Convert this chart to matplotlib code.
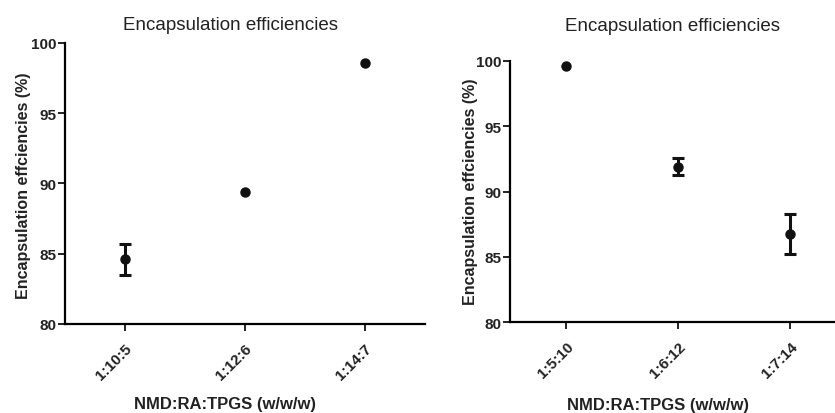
import matplotlib
matplotlib.use('Agg')
import matplotlib.pyplot as plt
import numpy as np

plt.rcParams['font.family'] = ['Liberation Sans', 'DejaVu Sans']

# left panel: NMD:RA:TPGS with increasing RA
left_labels = ['1:10:5', '1:12:6', '1:14:7']
left_mean = [84.6, 89.4, 98.6]
left_err = [1.1, 0.0, 0.0]

# right panel
right_labels = ['1:5:10', '1:6:12', '1:7:14']
right_mean = [99.6, 91.9, 86.75]
right_err = [0.0, 0.65, 1.5]

title = 'Encapsulation efficiencies'
ylabel = 'Encapsulation effciencies (%)'
xlabel = 'NMD:RA:TPGS (w/w/w)'
yticks = [80, 85, 90, 95, 100]


def draw_panel(ax, labels, mean, err, xmax, title_x, title_pad, xlab_pos, ylab_pos):
    x = np.arange(len(labels))
    mean = np.array(mean)
    err = np.array(err)
    ax.plot(x, mean, 'o', color='#111111', markersize=6.5)
    has_err = err > 0
    ax.errorbar(x[has_err], mean[has_err], yerr=err[has_err], fmt='none',
                ecolor='#111111', elinewidth=2.2, capsize=4.5, capthick=2.2)
    ax.set_xlim(-0.5, xmax)
    ax.set_ylim(80, 100)
    ax.set_yticks(yticks)
    ax.set_xticks(x)
    ax.set_xticklabels(labels, rotation=45, ha='right', va='top',
                       rotation_mode='anchor', fontsize=11, fontweight='bold')
    for t in ax.get_yticklabels():
        t.set_fontweight('bold')
        t.set_fontsize(11)
    ax.spines['top'].set_visible(False)
    ax.spines['right'].set_visible(False)
    ax.spines['left'].set_linewidth(1.6)
    ax.spines['bottom'].set_linewidth(1.6)
    ax.tick_params(width=1.4, length=5, colors='#222222')
    ax.tick_params(axis='y', pad=1)
    ax.tick_params(axis='x', pad=7)
    ax.set_title(title, fontsize=13.5, x=title_x, pad=title_pad, color='#222222')
    ax.set_xlabel(xlabel, fontsize=12, fontweight='bold', color='#222222')
    ax.set_ylabel(ylabel, fontsize=11.5, fontweight='bold', color='#222222')
    ax.xaxis.set_label_coords(*xlab_pos)
    ax.yaxis.set_label_coords(*ylab_pos)


fig = plt.figure(figsize=(8.35, 4.14), dpi=100)
ax1 = fig.add_axes([0.0778, 0.215, 0.431, 0.679])
ax2 = fig.add_axes([0.611, 0.219, 0.389, 0.632])

draw_panel(ax1, left_labels, left_mean, left_err, 2.5, 0.46, 10,
           (0.445, -0.256), (-0.094, 0.495))
draw_panel(ax2, right_labels, right_mean, right_err, 2.4, 0.5, 22,
           (0.455, -0.285), (-0.098, 0.504))

plt.savefig('out.png', dpi=100)
